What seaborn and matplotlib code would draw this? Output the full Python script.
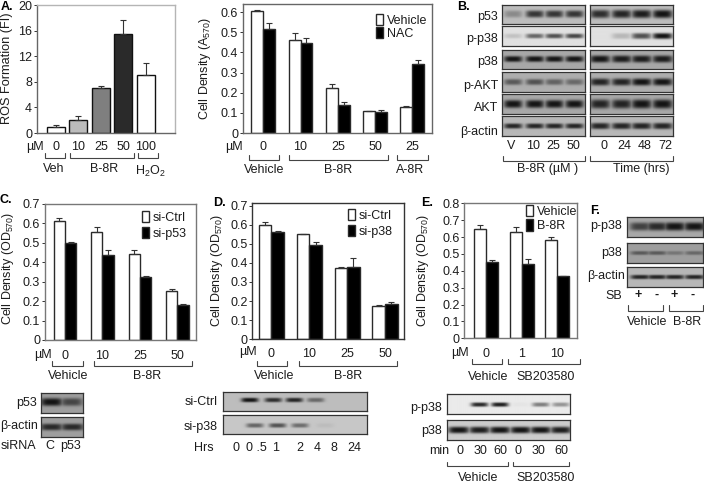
import numpy as np
import pandas as pd
import matplotlib
matplotlib.use("Agg")
import matplotlib.pyplot as plt
import seaborn as sns

sns.set_style("white")
plt.rcParams['font.family'] = ['Liberation Sans', 'DejaVu Sans']
plt.rcParams['mathtext.default'] = 'regular'

W, H = 704, 483
FS = 9.0
TXT = '#1c1c1c'

# ---------- data ----------
a_cats = ["0", "10", "25", "50", "100"]
a_vals = [1.0, 2.0, 7.0, 15.5, 9.0]
a_errs = [0.2, 0.6, 0.4, 2.1, 1.9]
a_cols = ['white', '#bcbcbc', '#7f7f7f', '#2a2a2a', 'white']

nac_groups = ["Veh 0", "B 10", "B 25", "B 50", "A 25"]
nac_ticks = ["0", "10", "25", "50", "25"]
nac_vehicle = [0.605, 0.46, 0.225, 0.108, 0.128]
nac_treated = [0.515, 0.445, 0.14, 0.103, 0.342]
nac_vehicle_err = [0.007, 0.035, 0.018, 0.002, 0.005]
nac_treated_err = [0.03, 0.025, 0.012, 0.012, 0.018]

c_groups = ["0", "10", "25", "50"]
c_ctrl = [0.615, 0.555, 0.445, 0.25]
c_p53 = [0.5, 0.44, 0.323, 0.182]
c_ctrl_err = [0.015, 0.025, 0.018, 0.012]
c_p53_err = [0.004, 0.022, 0.004, 0.003]

d_groups = ["0", "10", "25", "50"]
d_ctrl = [0.597, 0.55, 0.373, 0.175]
d_p38 = [0.562, 0.495, 0.38, 0.185]
d_ctrl_err = [0.015, 0.002, 0.003, 0.002]
d_p38_err = [0.007, 0.012, 0.045, 0.01]

e_groups = ["0", "1", "10"]
e_vehicle = [0.65, 0.632, 0.585]
e_b8r = [0.455, 0.442, 0.368]
e_vehicle_err = [0.02, 0.025, 0.017]
e_b8r_err = [0.008, 0.027, 0.004]

# western blot band strengths per lane
b_left = {'p53': [.3, .8, .8, .8], 'p-p38': [.15, .6, .7, .75], 'p38': [1, 1, 1, 1],
          'p-AKT': [.55, .6, .5, .45], 'AKT': [1, 1, 1, 1], 'actin': [.9, .9, .9, .9]}
b_right = {'p53': [.85, .9, .95, 1], 'p-p38': [0, .2, .7, 1], 'p38': [1, .95, .95, .95],
           'p-AKT': [.9, .9, 1, 1], 'AKT': [.9, .9, 1, 1], 'actin': [.9, .9, .9, .9]}
b_bg = {'p53': .74, 'p-p38': .88, 'p38': .66, 'p-AKT': .68, 'AKT': .66, 'actin': .72}
b_hgt = {'p53': .18, 'p-p38': .12, 'p38': .15, 'p-AKT': .15, 'AKT': .2, 'actin': .13}
b_rows = [('p53', 14, 73), ('p-p38', 79, 138), ('p38', 149, 208),
          ('p-AKT', 216, 275), ('AKT', 283, 342), ('actin', 349, 407)]
c_blot_p53 = [1, .65]
c_blot_actin = [.85, .85]
d_blot_ctrl = [0, 1, .85, .9, .5, 0, 0]
d_blot_p38 = [0, .55, .65, .5, .06, 0, 0]
e_blot_pp38 = [0, .9, .95, .03, .5, .4]
e_blot_p38 = [1, .95, 1, 1, 1, .95]
f_blot_pp38 = [.7, .85, 1, 1]
f_blot_p38 = [.5, .5, .3, .4]
f_blot_actin = [.9, .9, .9, .9]

fig = plt.figure(figsize=(W / 100, H / 100), dpi=100, facecolor='white')


def px_axes(x0, y0, x1, y1, **kw):
    return fig.add_axes([x0 / W, 1 - y1 / H, (x1 - x0) / W, (y1 - y0) / H], **kw)


def style(ax, ylim, yticks, ylabels, xlim, edge, pad):
    ax.set_ylim(*ylim)
    ax.set_xlim(*xlim)
    ax.set_yticks(yticks, ylabels)
    ax.set_xlabel('')
    ax.set_ylabel('')
    ax.tick_params(axis='y', left=True, length=2, width=.7, pad=1.5, labelsize=FS,
                   colors='#333333', labelcolor=TXT)
    ax.tick_params(axis='x', bottom=False, length=0, pad=pad, labelsize=FS, labelcolor=TXT)
    for s in ax.spines.values():
        s.set_visible(True)
        s.set_color(edge)
        s.set_linewidth(1.0)
    ax.grid(False)


def add_errs(ax, errs):
    for cont, err in zip(ax.containers, errs):
        xs = [b.get_x() + b.get_width() / 2 for b in cont]
        hs = [b.get_height() for b in cont]
        ax.errorbar(xs, hs, yerr=[[0] * len(err), err], fmt='none', ecolor='#333333',
                    elinewidth=.8, capsize=2, capthick=.8)


def grouped(box, groups, name1, v1, e1, name2, v2, e2, width, ylim, yticks, ylabels,
            xlim, edge, pad, ticklabels=None, legend_xy=(0, 0), spacing=.1):
    ax = px_axes(*box)
    df = pd.DataFrame({'group': list(groups) * 2, 'value': list(v1) + list(v2),
                       'series': [name1] * len(v1) + [name2] * len(v2)})
    sns.barplot(data=df, x='group', y='value', hue='series', order=groups,
                hue_order=[name1, name2], palette={name1: 'white', name2: 'black'},
                width=width, saturation=1, edgecolor='#2a2a2a', linewidth=1,
                errorbar=None, legend=False, ax=ax)
    add_errs(ax, [e1, e2])
    style(ax, ylim, yticks, ylabels, xlim, edge, pad)
    ax.set_xticks(range(len(groups)), ticklabels or groups)
    handles = [ax.containers[0], ax.containers[1]]
    ax.legend(handles, [name1, name2], loc='upper left',
              bbox_to_anchor=(legend_xy[0] / W, 1 - legend_xy[1] / H),
              bbox_transform=fig.transFigure, frameon=False, fontsize=FS,
              handlelength=.56, handleheight=1.0, handletextpad=.3, labelspacing=spacing,
              borderpad=0, borderaxespad=0, labelcolor=TXT)
    return ax


def blot(box, lanes, strengths, bg, band_w=.13, band_h=.2, cy=.5):
    x0, y0, x1, y1 = box
    ax = px_axes(x0, y0, x1, y1)
    nx, ny = int((x1 - x0) * 3), int((y1 - y0) * 3)
    X, Y = np.meshgrid(np.linspace(0, 1, nx), np.linspace(0, 1, ny))
    dark = np.zeros_like(X)
    for c, s in zip(lanes, strengths):
        dark = np.maximum(dark, s * np.exp(-((X - c) / band_w) ** 4)
                          * np.exp(-np.abs((Y - cy) / band_h) ** 3))
    img = bg * (1 - dark) + .08 * dark
    ax.imshow(img, cmap='gray', vmin=0, vmax=1, aspect='auto', interpolation='bilinear')
    ax.set_xticks([])
    ax.set_yticks([])
    for s in ax.spines.values():
        s.set_visible(True)
        s.set_color('#333333')
        s.set_linewidth(.9)
    return ax


# ---------- Panel A ----------
ax = px_axes(37, 5, 175, 133)
sns.barplot(x=a_cats, y=a_vals, hue=a_cats, order=a_cats, hue_order=a_cats,
            palette=dict(zip(a_cats, a_cols)), width=.8, saturation=1,
            edgecolor='#111111', linewidth=1, errorbar=None, legend=False, ax=ax)
add_errs(ax, [[e] for e in a_errs])
style(ax, (0, 20), [0, 4, 8, 12, 16, 20], ['0', '4', '8', '12', '16', '20'],
      (-.844, 5.29), '#b5b5b5', 6)
ax.set_xticks(range(5), a_cats)
ax.spines['left'].set_color('#666666')
ax.spines['bottom'].set_color('#666666')

# ---------- Panel A2 ----------
grouped((243, 4, 432, 133), nac_groups, 'Vehicle', nac_vehicle, nac_vehicle_err,
        'NAC', nac_treated, nac_treated_err, .64, (0, .64),
        [0, .1, .2, .3, .4, .5, .6], ['0', '0.1', '0.2', '0.3', '0.4', '0.5', '0.6'],
        (-.544, 4.53), '#666666', 6, ticklabels=nac_ticks, legend_xy=(376, 14), spacing=0)

# ---------- Panel C ----------
t7 = [0, .1, .2, .3, .4, .5, .6, .7]
l7 = ['0', '0.1', '0.2', '0.3', '0.4', '0.5', '0.6', '0.7']
grouped((45, 204, 195.7, 340), c_groups, 'si-Ctrl', c_ctrl, c_ctrl_err,
        'si-p53', c_p53, c_p53_err, .6, (0, .7), t7, l7, (-.535, 3.49), '#777777', 7.5,
        legend_xy=(142, 211), spacing=.22)

# ---------- Panel D ----------
grouped((252.3, 202.7, 403.7, 339.3), d_groups, 'si-Ctrl', d_ctrl, d_ctrl_err,
        'si-p38', d_p38, d_p38_err, .665, (0, .715), t7, l7, (-.5, 3.49), '#333333', 6,
        legend_xy=(348, 209), spacing=.22)

# ---------- Panel E ----------
grouped((464.3, 203.3, 576.7, 338.3), e_groups, 'Vehicle', e_vehicle, e_vehicle_err,
        'B-8R', e_b8r, e_b8r_err, .67, (0, .8), t7 + [.8], l7 + ['0.8'],
        (-.6, 2.54), '#777777', 7, legend_xy=(526, 205), spacing=.12)

# ---------- Blots: panel B ----------
lanes_l = [(c - 157) / (404 - 157) for c in (190, 255, 313, 373)]
lanes_r = [(c - 420) / (669 - 420) for c in (450, 515, 575, 638)]
for key, t, b in b_rows:
    y0, y1 = t / 3, b / 3
    blot((450 + 157 / 3, y0, 450 + 404 / 3, y1), lanes_l, b_left[key], b_bg[key], band_w=.11, band_h=b_hgt[key])
    blot((450 + 420 / 3, y0, 450 + 669 / 3, y1), lanes_r, b_right[key], b_bg[key], band_w=.12, band_h=b_hgt[key] + .03)

# panel C blots
blot((41, 393, 83, 413), [.25, .73], c_blot_p53, .62, band_w=.26, band_h=.2, cy=.45)
blot((41, 417, 83, 437), [.25, .75], c_blot_actin, .62, band_w=.27, band_h=.17)
# panel D blots
d_lanes = [(c - 55) / 430 for c in (92, 135, 205, 268, 332, 388, 447)]
blot((223, 392, 367, 411), d_lanes, d_blot_ctrl, .74, band_w=.06, band_h=.12, cy=.42)
blot((223, 415, 367, 434), [(c - 55) / 430 for c in (92, 150, 218, 285, 360, 388, 447)],
     d_blot_p38, .78, band_w=.06, band_h=.12, cy=.55)
# panel E blots
e_lanes = [(c - 125) / 370 for c in (160, 222, 283, 345, 405, 465)]
blot((447, 394, 570, 414), e_lanes, e_blot_pp38, .92, band_w=.07, band_h=.11, cy=.53)
blot((447, 420, 570, 440), e_lanes, e_blot_p38, .8, band_w=.085, band_h=.17)
# panel F blots
f_lanes = [(c - 665) / 228 for c in (705, 755, 808, 868)]
blot((627, 217, 703, 237), f_lanes, f_blot_pp38, .66, band_w=.14, band_h=.2)
blot((627, 243, 703, 263), f_lanes, f_blot_p38, .62, band_w=.13, band_h=.1)
blot((627, 267, 703, 287), f_lanes, f_blot_actin, .72, band_w=.13, band_h=.11)

# ---------- overlay for labels and brackets ----------
ov = fig.add_axes([0, 0, 1, 1], facecolor='none', zorder=20)
ov.set_xlim(0, W)
ov.set_ylim(H, 0)
ov.axis('off')


def T(x, y, s, ha='center', **kw):
    kw.setdefault('fontsize', FS)
    kw.setdefault('color', TXT)
    ov.text(x, y, s, ha=ha, va='center', **kw)


def bracket(x0, x1, y0, y1):
    ov.plot([x0, x0, x1, x1], [y0, y1, y1, y0], color='#444444', lw=.8, solid_joinstyle='miter')


def letter(x, y, s):
    T(x, y, s, ha='left', fontweight='bold', color='black', fontsize=9)


# A
letter(1, 7, 'A.')
T(7, 68, 'ROS Formation (FI)', rotation=90, fontsize=9.2)
T(35, 147, 'µM')
bracket(44.5, 65, 153, 158); bracket(70, 134, 153, 158); bracket(138, 158, 153, 158)
T(54, 169, 'Veh'); T(104, 169, 'B-8R'); T(150, 171, 'H$_2$O$_2$')
# A2
T(205, 69, 'Cell Density (A$_{570}$)', rotation=90)
T(234, 147, 'µM')
bracket(248.7, 279.3, 155, 160); bracket(289.3, 387.7, 155, 160); bracket(397.3, 427.7, 155, 160)
T(264, 170, 'Vehicle'); T(338, 170, 'B-8R'); T(410, 170, 'A-8R')
# B
letter(457, 7, 'B.')
for y, s in zip((17, 39, 62, 86, 108, 132), ('p53', 'p-p38', 'p38', 'p-AKT', 'AKT', 'β-actin')):
    T(498, y, s, ha='right')
for x, s in zip((511, 533, 553, 573, 604, 624, 645, 665), ('V', '10', '25', '50', '0', '24', '48', '72')):
    T(x, 146, s)
bracket(502.7, 585, 156, 161); bracket(590.3, 673, 156, 161)
T(548, 169, 'B-8R (µM )'); T(641, 169, 'Time (hrs)')
# C
letter(0, 200, 'C.')
T(8, 268, 'Cell Density (OD$_{570}$)', rotation=90)
T(43, 355, 'µM')
bracket(52.3, 82.7, 361, 366); bracket(93.7, 192.3, 361, 366)
T(68, 376, 'Vehicle'); T(147, 376, 'B-8R')
T(37, 403, 'p53', ha='right'); T(38, 426, 'β-actin', ha='right')
T(18, 446, 'siRNA'); T(50, 446, 'C'); T(71, 446, 'p53')
# D
letter(213, 203, 'D.')
T(217, 270, 'Cell Density (OD$_{570}$)', rotation=90)
T(248, 352, 'µM')
bracket(257, 287, 361, 366); bracket(299, 397, 361, 366)
T(274, 376, 'Vehicle'); T(348, 376, 'B-8R')
T(218, 402, 'si-Ctrl', ha='right'); T(218, 427, 'si-p38', ha='right'); T(214, 448, 'Hrs', ha='right')
for x, s in zip((236, 256, 276, 300, 317, 334, 354), ('0', '0 .5', '1', '2', '4', '8', '24')):
    T(x, 448, s)
# E
letter(421, 203, 'E.')
T(423, 270, 'Cell Density (OD$_{570}$)', rotation=90)
T(460, 353, 'µM')
bracket(472, 502, 359, 364); bracket(508, 580, 359, 364)
T(488, 377, 'Vehicle'); T(546, 377, 'SB203580')
T(442, 408, 'p-p38', ha='right'); T(442, 431, 'p38', ha='right'); T(449, 451, 'min', ha='right')
for x, s in zip((460, 480, 500, 518, 538, 561), ('0', '30', '60', '0', '30', '60')):
    T(x, 451, s)
bracket(447, 508, 462, 466); bracket(513, 569, 462, 466)
T(478, 478, 'Vehicle'); T(546, 478, 'SB203580')
# F
letter(590, 211, 'F.')
T(622, 226, 'p-p38', ha='right'); T(622, 253, 'p38', ha='right'); T(625, 276, 'β-actin', ha='right')
T(622, 296, 'SB', ha='right')
for x, s in zip((638, 657, 674, 693), ('+', '-', '+', '-')):
    T(x, 295, s, fontweight='bold')
bracket(628, 663, 305, 311); bracket(669, 703, 305, 311)
T(647, 322, 'Vehicle'); T(687, 322, 'B-8R')

fig.savefig('out.png', dpi=100)
